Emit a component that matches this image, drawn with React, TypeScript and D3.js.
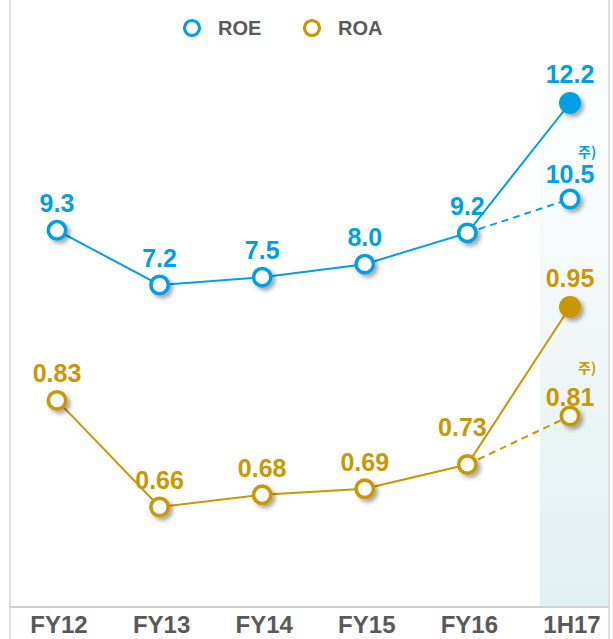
import React from "react";
import * as d3 from "d3";

const categories = ["FY12", "FY13", "FY14", "FY15", "FY16", "1H17"];
const roeValues = [9.3, 7.2, 7.5, 8.0, 9.2, 12.2];
const roaValues = [0.83, 0.66, 0.68, 0.69, 0.73, 0.95];
const roeAlt = 10.5; // 1H17 note value (주)
const roaAlt = 0.81;
const roeLabels = ["9.3", "7.2", "7.5", "8.0", "9.2", "12.2"];
const roaLabels = ["0.83", "0.66", "0.68", "0.69", "0.73", "0.95"];
const roeAltLabel = "10.5";
const roaAltLabel = "0.81";
const noteText = "주)";
const legendItems = ["ROE", "ROA"];

const W = 613;
const H = 639;
const BLUE = "#009FE3";
const GOLD = "#C99700";
const GRAY = "#595959";
const FONT = "'Liberation Sans', Arial, Helvetica, sans-serif";

const x = d3.scalePoint<string>().domain(categories).range([57, 570]).padding(0);
// broken (two-segment) scales, as in the source chart
const yRoe = d3.scaleLinear().domain([7.2, 10.5, 12.2]).range([285, 199, 103]);
const yRoa = d3.scaleLinear().domain([0.66, 0.81, 0.95]).range([507, 416, 307]);

type SeriesProps = {
  values: number[];
  labels: string[];
  alt: number;
  altLabel: string;
  y: d3.ScaleLinear<number, number>;
  color: string;
  isRoa: boolean;
};

function Series({ values, labels, alt, altLabel, y, color, isRoa }: SeriesProps) {
  const line = d3
    .line<number>()
    .x((_, i) => x(categories[i]) as number)
    .y((d) => y(d));
  const last = categories.length - 1;
  const xl = x(categories[last]) as number;
  const xp = x(categories[last - 1]) as number;
  const dashed = d3.line<[number, number]>()([
    [xp, y(values[last - 1])],
    [xl, y(alt)],
  ]);
  return (
    <g>
      <path d={line(values) || ""} fill="none" stroke={color} strokeWidth={2} />
      <path d={dashed || ""} fill="none" stroke={color} strokeWidth={2} strokeDasharray="7,5" />
      {values.map((v, i) => {
        const cx = x(categories[i]) as number;
        const cy = y(v);
        const filled = i === last;
        return (
          <circle
            key={"c" + i}
            cx={cx}
            cy={cy}
            r={filled ? 11 : 8.7}
            fill={filled ? color : "#fff"}
            stroke={color}
            strokeWidth={filled ? 0 : 3.6}
            filter="url(#shadow)"
          />
        );
      })}
      <circle cx={xl} cy={y(alt)} r={8.7} fill="#fff" stroke={color} strokeWidth={3.6} filter="url(#shadow)" />
      {values.map((v, i) => {
        const cx = x(categories[i]) as number;
        const cy = y(v);
        const special = isRoa && i === last - 1;
        return (
          <text
            key={"t" + i}
            x={special ? cx - 5 : cx}
            y={special ? cy - 29 : cy - (i === last ? 20 : 18)}
            textAnchor="middle"
            fontFamily={FONT}
            fontWeight="bold"
            fontSize={25}
            fill={color}
          >
            {labels[i]}
          </text>
        );
      })}
      <text
        x={xl}
        y={y(alt) - (isRoa ? 10 : 16)}
        textAnchor="middle"
        fontFamily={FONT}
        fontWeight="bold"
        fontSize={25}
        fill={color}
      >
        {altLabel}
      </text>
      <text
        x={xl + 8}
        y={y(alt) - (isRoa ? 43 : 42)}
        fontFamily={"'Noto Sans CJK KR', " + FONT}
        fontWeight="bold"
        fontSize={14}
        fill={color}
      >
        {noteText}
      </text>
    </g>
  );
}

export default function App() {
  const legendColors = [BLUE, GOLD];
  const legendX = d3.scaleOrdinal<string, number>().domain(legendItems).range([192, 312]);
  return (
    <svg
      width={W}
      height={H}
      style={{ position: "absolute", left: 0, top: 0, background: "#fff" }}
    >
      <defs>
        <linearGradient id="shade" x1="0" y1="0" x2="0" y2="1">
          <stop offset="0" stopColor="#ffffff" />
          <stop offset="0.3" stopColor="#f6fafb" />
          <stop offset="1" stopColor="#e0f0f2" />
        </linearGradient>
        <filter id="shadow" x="-50%" y="-50%" width="200%" height="200%">
          <feDropShadow dx={3} dy={3} stdDeviation={2} floodColor="#000" floodOpacity={0.35} />
        </filter>
      </defs>
      <rect x={540} y={70} width={68} height={537} fill="url(#shade)" />
      <line x1={10} x2={10} y1={0} y2={H} stroke="#d4d4d4" strokeWidth={1.5} />
      <line x1={609} x2={609} y1={0} y2={H} stroke="#d4d4d4" strokeWidth={1.5} />
      <line x1={10} x2={609} y1={607} y2={607} stroke="#cfcfcf" strokeWidth={2} />
      {legendItems.map((name, i) => (
        <g key={name}>
          <circle cx={legendX(name)} cy={28} r={7.5} fill="#fff" stroke={legendColors[i]} strokeWidth={3.2} />
          <text
            x={legendX(name) + 26}
            y={35}
            fontFamily={FONT}
            fontWeight="bold"
            fontSize={20}
            fill={GRAY}
          >
            {name}
          </text>
        </g>
      ))}
      <Series values={roeValues} labels={roeLabels} alt={roeAlt} altLabel={roeAltLabel} y={yRoe} color={BLUE} isRoa={false} />
      <Series values={roaValues} labels={roaLabels} alt={roaAlt} altLabel={roaAltLabel} y={yRoa} color={GOLD} isRoa={true} />
      {categories.map((c) => (
        <text
          key={c}
          x={(x(c) as number) + 2}
          y={633}
          textAnchor="middle"
          fontFamily={FONT}
          fontWeight="bold"
          fontSize={24}
          fill={GRAY}
        >
          {c}
        </text>
      ))}
    </svg>
  );
}
